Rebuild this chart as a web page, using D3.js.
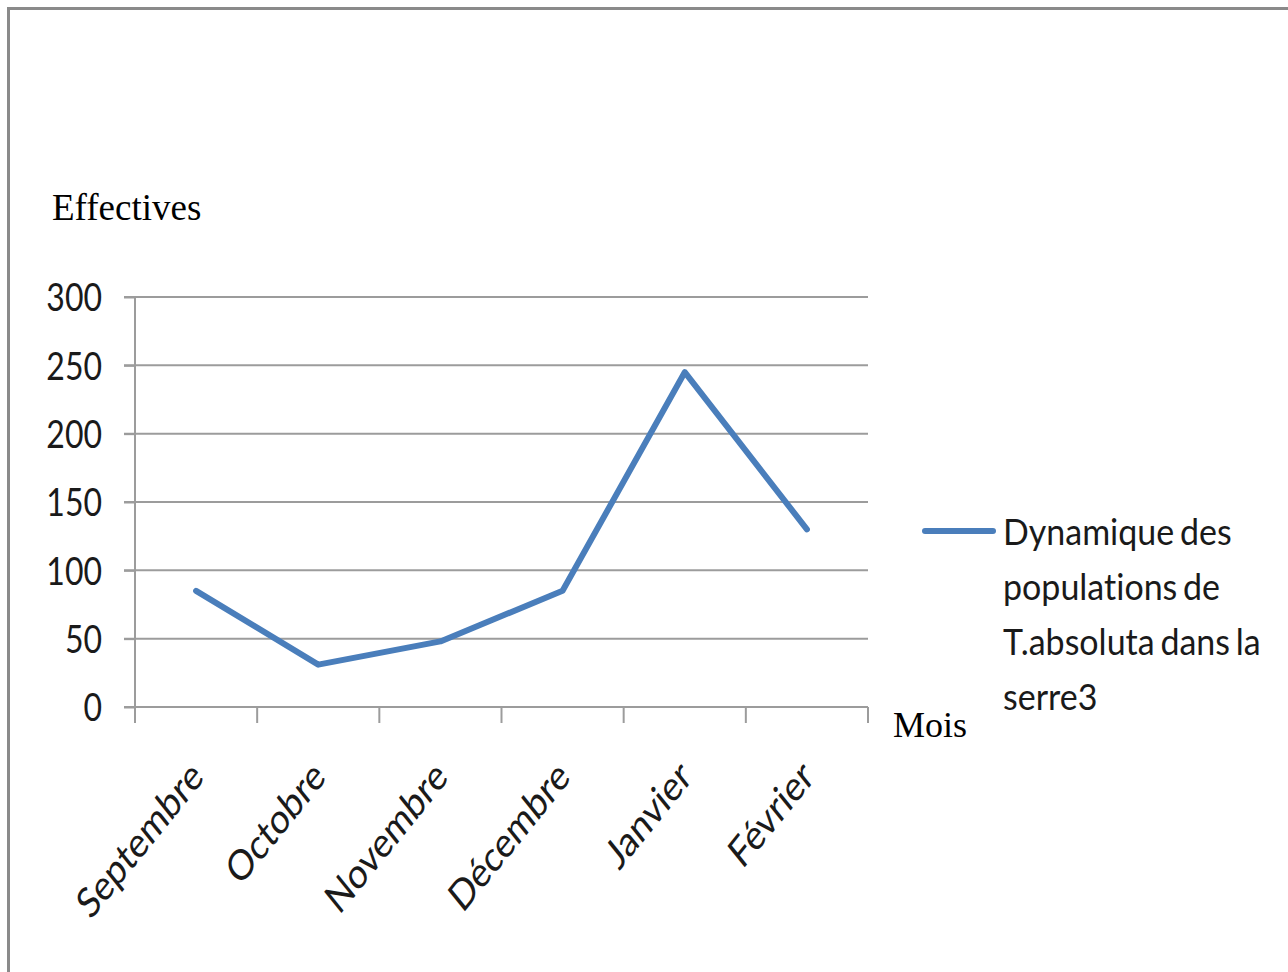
<!DOCTYPE html>
<html>
<head>
<meta charset="utf-8">
<script src="https://cdn.jsdelivr.net/npm/d3@7"></script>
<style>
  html, body { margin: 0; padding: 0; background: #fff; }
  svg { display: block; }
  text { font-variant-ligatures: none; }
</style>
</head>
<body>
<svg id="chart" width="1288" height="972"></svg>
<script>
// ---- data ----
const months = ["Septembre", "Octobre", "Novembre", "Décembre", "Janvier", "Février"];
const effectifs = [85, 31, 48, 85, 245, 130];
const yTicks = [0, 50, 100, 150, 200, 250, 300];
const seriesName = ["Dynamique des", "populations de", "T.absoluta dans la", "serre3"];
const yTitle = "Effectives";
const xTitle = "Mois";

// ---- layout ----
const svg = d3.select("#chart");
const plot = { left: 135, right: 868, top: 297, bottom: 707 };
const gridColor = "#9c9c9c";
const lineColor = "#4a7ebb";
const sansFont = "Lato, 'Open Sans', sans-serif";
const serifFont = "'Liberation Serif', 'Times New Roman', serif";
const stretch = 1.2;

// page frame
svg.append("path")
  .attr("d", "M8.5,1000 V8.5 H1300")
  .attr("fill", "none")
  .attr("stroke", "#8a8a8a")
  .attr("stroke-width", 3);

const x = d3.scaleBand().domain(months).range([plot.left, plot.right]).paddingInner(0).paddingOuter(0);
const y = d3.scaleLinear().domain([0, 300]).range([plot.bottom, plot.top]);

// gridlines
svg.append("g")
  .selectAll("line")
  .data(yTicks)
  .join("line")
  .attr("x1", plot.left - 11)
  .attr("x2", plot.right)
  .attr("y1", d => y(d))
  .attr("y2", d => y(d))
  .attr("stroke", gridColor)
  .attr("stroke-width", 2);

// y axis
const yAxis = svg.append("g")
  .attr("transform", `translate(${plot.left},0)`)
  .call(d3.axisLeft(y).tickValues(yTicks).tickSize(11).tickPadding(22));
yAxis.select(".domain").remove();
yAxis.selectAll(".tick line").attr("stroke", gridColor).attr("stroke-width", 2);
yAxis.selectAll(".tick text")
  .attr("font-family", sansFont)
  .attr("font-size", 32)
  .attr("fill", "#1a1a1a")
  .attr("dy", "0.36em")
  .attr("transform", `scale(1,${stretch})`);
// vertical axis line
svg.append("line")
  .attr("x1", plot.left).attr("x2", plot.left)
  .attr("y1", plot.top).attr("y2", plot.bottom + 16)
  .attr("stroke", gridColor).attr("stroke-width", 2);

// x axis boundary ticks
const boundaries = months.map(m => x(m)).concat([plot.right]);
svg.append("g")
  .selectAll("line")
  .data(boundaries)
  .join("line")
  .attr("x1", d => d).attr("x2", d => d)
  .attr("y1", plot.bottom).attr("y2", plot.bottom + 16)
  .attr("stroke", gridColor).attr("stroke-width", 2);

// x labels
const xAxis = svg.append("g")
  .attr("transform", `translate(0,${plot.bottom})`)
  .call(d3.axisBottom(x).tickSize(0).tickPadding(0));
xAxis.select(".domain").remove();
xAxis.selectAll(".tick text")
  .attr("font-family", sansFont)
  .attr("font-size", 34)
  .attr("fill", "#1a1a1a")
  .attr("text-anchor", "end")
  .attr("y", 0)
  .attr("dy", 0)
  .attr("transform", `translate(9,72) scale(1,1.24) rotate(-45)`);

// series line
const line = d3.line()
  .x((d, i) => x(months[i]) + x.bandwidth() / 2)
  .y(d => y(d));
svg.append("path")
  .datum(effectifs)
  .attr("d", line)
  .attr("fill", "none")
  .attr("stroke", lineColor)
  .attr("stroke-width", 6)
  .attr("stroke-linejoin", "round")
  .attr("stroke-linecap", "round");

// axis titles
svg.append("text")
  .attr("x", 52).attr("y", 220)
  .attr("font-family", serifFont)
  .attr("font-size", 37)
  .attr("fill", "#000")
  .text(yTitle);
svg.append("text")
  .attr("x", 893).attr("y", 737)
  .attr("font-family", serifFont)
  .attr("font-size", 36)
  .attr("fill", "#000")
  .text(xTitle);

// legend
const legend = svg.append("g");
legend.append("line")
  .attr("x1", 925).attr("x2", 993)
  .attr("y1", 531).attr("y2", 531)
  .attr("stroke", lineColor).attr("stroke-width", 6).attr("stroke-linecap", "round");
legend.selectAll("text")
  .data(seriesName)
  .join("text")
  .attr("transform", (d, i) => `translate(1003,${545 + i * 55}) scale(1,1.1)`)
  .attr("font-family", sansFont)
  .attr("font-size", 34)
  .attr("word-spacing", -3)
  .attr("fill", "#1a1a1a")
  .text(d => d);
</script>
</body>
</html>
